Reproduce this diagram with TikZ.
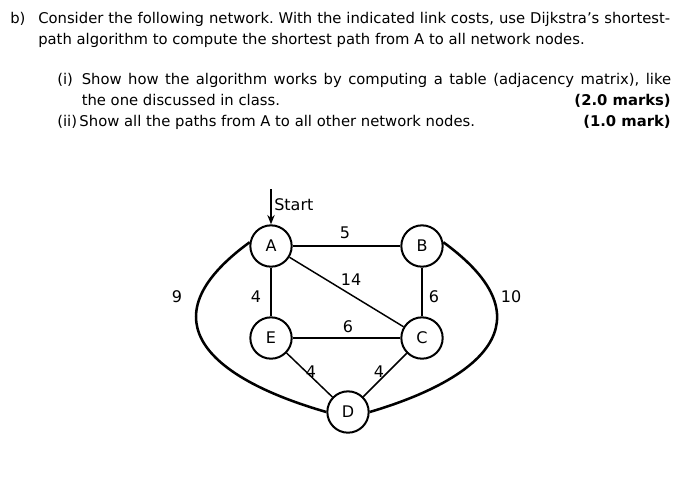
\documentclass[tikz,border=0pt]{standalone}
\usepackage{fontspec}
\setmainfont{DejaVu Sans}
\usetikzlibrary{arrows.meta}
\frenchspacing

\begin{document}
\begin{tikzpicture}[x=0.75pt, y=-0.75pt,
    router/.style={draw, circle, line width=1.5pt, minimum size=31pt, inner sep=0pt, font=\fontsize{12}{14}\selectfont},
    link/.style={line width=1.1pt},
    longlink/.style={line width=1.9pt},
    cost/.style={inner sep=0pt, font=\fontsize{12}{14}\selectfont},
    qline/.style={anchor=base west, inner sep=0pt, font=\fontsize{11.1}{13}\selectfont},
    marks/.style={anchor=base east, inner sep=0pt, font=\fontsize{11.1}{13}\selectfont\bfseries}]
    % fix the page to the size of the reference
    \useasboundingbox (0,0) rectangle (680,487);

    % Question text
    \node[qline] (qb) at (10,23.3) {b)};
    \node[qline] (q1) at (38,23.3) {\makebox[474pt][s]{Consider the following network. With the indicated link costs, use Dijkstra’s shortest-}};
    \node[qline] (q2) at (38,44.3) {path algorithm to compute the shortest path from A to all network nodes.};
    \node[qline] (qi) at (57,84.5) {(i)};
    \node[qline] (qi1) at (81.5,84.5) {\makebox[442pt][s]{Show how the algorithm works by computing a table (adjacency matrix), like}};
    \node[qline] (qi2) at (81.5,105.3) {the one discussed in class.};
    \node[qline] (qii) at (57,126.3) {(ii)\,Show all the paths from A to all other network nodes.};
    \node[marks] (mi) at (671,105.3) {(2.0 marks)};
    \node[marks] (mii) at (671,126.3) {(1.0 mark)};

    % The five routers
    \node[router] (A) at (271,246) {A};
    \node[router] (B) at (422,246) {B};
    \node[router] (E) at (271,338) {E};
    \node[router] (C) at (422,338) {C};
    \node[router] (D) at (348,412) {D};

    % Start arrow into A
    \coordinate (start) at (271,189);
    \draw[link, -{Stealth[length=7pt, width=5.5pt]}] (start) -- (A);
    \node[cost, anchor=west] (starttxt) at (274,205) {Start};

    % Straight links
    \draw[link] (A) -- (B);
    \draw[link] (A) -- (E);
    \draw[link] (A) -- (C);
    \draw[link] (B) -- (C);
    \draw[link] (E) -- (C);
    \draw[link] (E) -- (D);
    \draw[link] (C) -- (D);

    % Outer links round the sides
    \draw[longlink] (A.170) .. controls (140,322) and (215,380) .. (D.180);
    \draw[longlink] (B.10) .. controls (553,322) and (478,380) .. (D.0);

    % Link costs
    \node[cost] (cAB) at (345,233) {5};
    \node[cost] (cAC) at (351,280) {14};
    \node[cost] (cAE) at (256,297) {4};
    \node[cost] (cBC) at (434,297) {6};
    \node[cost] (cEC) at (348,327) {6};
    \node[cost] (cED) at (311,372) {4};
    \node[cost] (cCD) at (379,372) {4};
    \node[cost] (cAD) at (177,297) {9};
    \node[cost] (cBD) at (511,297) {10};

\end{tikzpicture}
\end{document}
